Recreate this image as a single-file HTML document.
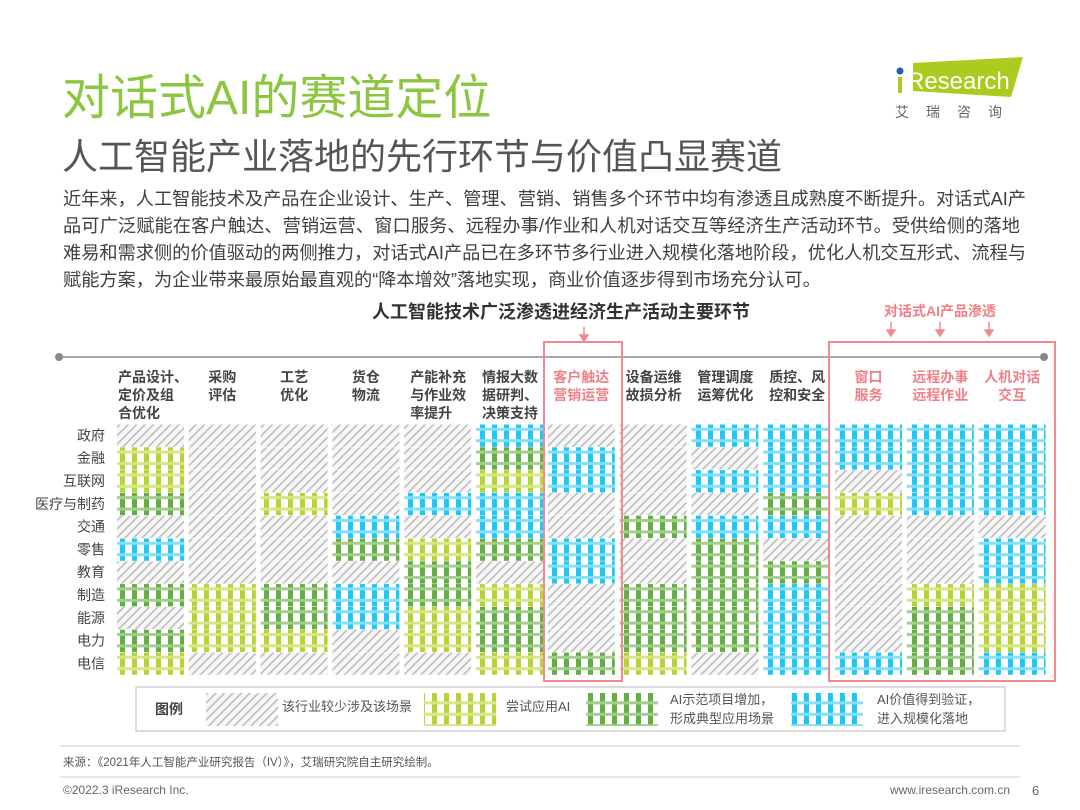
<!DOCTYPE html>
<html><head><meta charset="utf-8">
<style>
body{margin:0;width:1080px;height:810px;background:#fff;position:relative;overflow:hidden;font-family:"Liberation Sans","Noto Sans CJK SC",sans-serif;}
.abs{position:absolute;white-space:nowrap;}
.title{left:62px;top:58px;font-size:48px;color:#8cc63f;}
.sub{left:62px;top:128px;font-size:36px;color:#555;}
.body{left:63px;width:957px;font-size:18.2px;color:#404040;text-align:justify;text-align-last:justify;line-height:27px;}
</style></head><body>
<div class="abs title">对话式AI的赛道定位</div>
<div class="abs sub">人工智能产业落地的先行环节与价值凸显赛道</div>
<div class="abs body" style="top:186px">近年来，人工智能技术及产品在企业设计、生产、管理、营销、销售多个环节中均有渗透且成熟度不断提升。对话式AI产</div>
<div class="abs body" style="top:213px">品可广泛赋能在客户触达、营销运营、窗口服务、远程办事/作业和人机对话交互等经济生产活动环节。受供给侧的落地</div>
<div class="abs body" style="top:240px">难易和需求侧的价值驱动的两侧推力，对话式AI产品已在多环节多行业进入规模化落地阶段，优化人机交互形式、流程与</div>
<div class="abs" style="left:63px;top:267px;font-size:18.2px;color:#404040;line-height:27px">赋能方案，为企业带来最原始最直观的“降本增效”落地实现，商业价值逐步得到市场充分认可。</div>

<svg class="abs" style="left:893px;top:57px" width="135" height="66">
<polygon points="20,6 130,0 118,40 20,34" fill="#a9cc1e"/>
<circle cx="7" cy="14" r="3.5" fill="#1f5fb0"/>
<rect x="5" y="20" width="4" height="16" fill="#a9cc1e"/>
<text x="14" y="32" font-size="24" fill="#fff" font-family="Liberation Sans">Research</text>
<text x="2" y="60" font-size="14" fill="#666" letter-spacing="17" font-family="Liberation Sans,Noto Sans CJK SC,sans-serif">艾瑞咨询</text>
</svg>

<svg class="abs" style="left:0;top:0" width="1080" height="810" id="chart">
<defs>
<pattern id="p0" width="6" height="6" patternUnits="userSpaceOnUse" patternTransform="rotate(45)">
<rect width="6" height="6" fill="#f7f7f7"/><rect width="1.6" height="6" fill="#bdbdbd"/></pattern>
<pattern id="p1" width="12" height="11.4" patternUnits="userSpaceOnUse"><rect width="12" height="11.4" fill="#fff"/><rect x="0" y="0" width="5" height="11.4" fill="#b5d334"/><rect y="6" width="12" height="3" fill="#d5e884"/></pattern>
<pattern id="p2" width="12" height="11.4" patternUnits="userSpaceOnUse"><rect width="12" height="11.4" fill="#fff"/><rect x="0" y="0" width="5" height="11.4" fill="#64ae43"/><rect y="6" width="12" height="3" fill="#a2cf8c"/></pattern>
<pattern id="p3" width="12" height="11.4" patternUnits="userSpaceOnUse"><rect width="12" height="11.4" fill="#fff"/><rect x="0" y="0" width="5" height="11.4" fill="#1cc8f4"/><rect y="6" width="12" height="3" fill="#86dff7"/></pattern>
</defs>
<text x="561" y="318" font-size="18" font-weight="bold" fill="#333" text-anchor="middle">人工智能技术广泛渗透进经济生产活动主要环节</text>
<text x="940" y="316" font-size="14" font-weight="bold" fill="#f07f87" text-anchor="middle">对话式AI产品渗透</text>
<line x1="59" y1="357" x2="1044" y2="357" stroke="#aaa" stroke-width="2"/>
<circle cx="59" cy="357" r="4" fill="#888"/><circle cx="1044" cy="357" r="4" fill="#888"/>
<g id="cells"></g><g id="labels"></g>
<rect x="544" y="342" width="78" height="339" fill="none" stroke="#f08a90" stroke-width="2"/>
<rect x="829" y="342" width="226" height="339" fill="none" stroke="#f08a90" stroke-width="2"/>
<g stroke="#f08a90" stroke-width="1.5" fill="#f08a90">
<line x1="584" y1="327" x2="584" y2="338"/><polygon points="580,335 588,335 584,341"/>
<line x1="891" y1="322" x2="891" y2="333"/><polygon points="887,330 895,330 891,336"/>
<line x1="940" y1="322" x2="940" y2="333"/><polygon points="936,330 944,330 940,336"/>
<line x1="989" y1="322" x2="989" y2="333"/><polygon points="985,330 993,330 989,336"/>
</g>
<rect x="136" y="687" width="869" height="44" fill="none" stroke="#bbb"/>
<text x="155" y="714" font-size="14" font-weight="bold" fill="#444">图例</text>
<rect x="206" y="693" width="72" height="33" fill="url(#p0)"/>
<text x="282" y="711" font-size="13" fill="#555">该行业较少涉及该场景</text>
<rect x="424" y="693" width="72" height="33" fill="url(#p1)"/>
<text x="506" y="711" font-size="13" fill="#555">尝试应用AI</text>
<rect x="586" y="693" width="72" height="33" fill="url(#p2)"/>
<text x="670" y="704" font-size="13" fill="#555">AI示范项目增加，</text>
<text x="670" y="723" font-size="13" fill="#555">形成典型应用场景</text>
<rect x="791" y="693" width="72" height="33" fill="url(#p3)"/>
<text x="877" y="704" font-size="13" fill="#555">AI价值得到验证，</text>
<text x="877" y="723" font-size="13" fill="#555">进入规模化落地</text>
<line x1="60" y1="746" x2="1020" y2="746" stroke="#ccc"/>
<text x="63" y="766" font-size="11.5" fill="#555">来源：《2021年人工智能产业研究报告（IV）》，艾瑞研究院自主研究绘制。</text>
<line x1="60" y1="777" x2="1020" y2="777" stroke="#ccc"/>
<text x="63" y="794" font-size="12" fill="#666">©2022.3 iResearch Inc.</text>
<text x="1010" y="794" font-size="12" fill="#666" text-anchor="end">www.iresearch.com.cn</text>
<text x="1032" y="795" font-size="13" fill="#666">6</text>
</svg>
<script>
const industries=["政府","金融","互联网","医疗与制药","交通","零售","教育","制造","能源","电力","电信"];
const stages=[["产品设计、","定价及组","合优化"],["采购","评估"],["工艺","优化"],["货仓","物流"],["产能补充","与作业效","率提升"],["情报大数","据研判、","决策支持"],["客户触达","营销运营"],["设备运维","故损分析"],["管理调度","运筹优化"],["质控、风","控和安全"],["窗口","服务"],["远程办事","远程作业"],["人机对话","交互"]];
const highlighted=[6,10,11,12];
// levels per stage (columns), industries order; 0 rare,1 trial,2 demo,3 scale
const col0=[0,1,1,2,0,3,0,2,0,2,1];
const col1=[0,0,0,0,0,0,0,1,1,1,0];
const col2=[0,0,0,1,0,0,0,2,2,1,0];
const col3=[0,0,0,0,3,2,0,3,3,0,0];
const col4=[0,0,0,3,0,1,2,2,1,1,0];
const col5=[3,2,1,3,3,2,0,1,2,2,1];
const col6=[0,3,3,0,0,3,3,0,0,0,2];
const col7=[0,0,0,0,2,0,0,2,2,2,1];
const col8=[3,0,3,0,3,2,2,2,2,2,0];
const col9=[3,3,3,2,3,0,2,3,3,3,3];
const col10=[3,3,0,1,0,0,0,0,0,0,3];
const col11=[3,3,3,3,0,0,0,1,2,2,2];
const col12=[3,3,3,3,0,3,3,1,1,1,3];
const levels=[col0,col1,col2,col3,col4,col5,col6,col7,col8,col9,col10,col11,col12];
const NS="http://www.w3.org/2000/svg";
const x0=117,colStep=71.8,cellW=67,y0=424,rowH=22.8;
const xPos=c=>x0+c*colStep, yPos=r=>y0+r*rowH;
const cells=document.getElementById('cells'),labels=document.getElementById('labels');
function mk(t,a){const e=document.createElementNS(NS,t);for(const k in a)e.setAttribute(k,a[k]);return e;}
levels.forEach((col,c)=>{col.forEach((v,r)=>{
 const e=mk('rect',{x:xPos(c),y:yPos(r)+0.5,width:cellW,height:rowH-0.5,fill:'url(#p'+v+')'});
 
 
 cells.appendChild(e);});});
industries.forEach((n,r)=>{const t=mk('text',{x:105,y:yPos(r)+rowH/2+5,'font-size':14,fill:'#444','text-anchor':'end'});t.textContent=n;
 
 
 labels.appendChild(t);});
stages.forEach((ls,c)=>{const hl=highlighted.includes(c);ls.forEach((s,i)=>{
 const left=(c===0||(ls[0].length>=4&&!hl));
 const t=mk('text',{x:c===0?xPos(c)+1:(left?xPos(c)+6:xPos(c)+cellW/2),y:382+i*18,'font-size':14,'font-weight':'bold',fill:hl?'#f07f87':'#444','text-anchor':left?'start':'middle'});
 t.textContent=s;
 
 
 labels.appendChild(t);});});
</script>
</body></html>
